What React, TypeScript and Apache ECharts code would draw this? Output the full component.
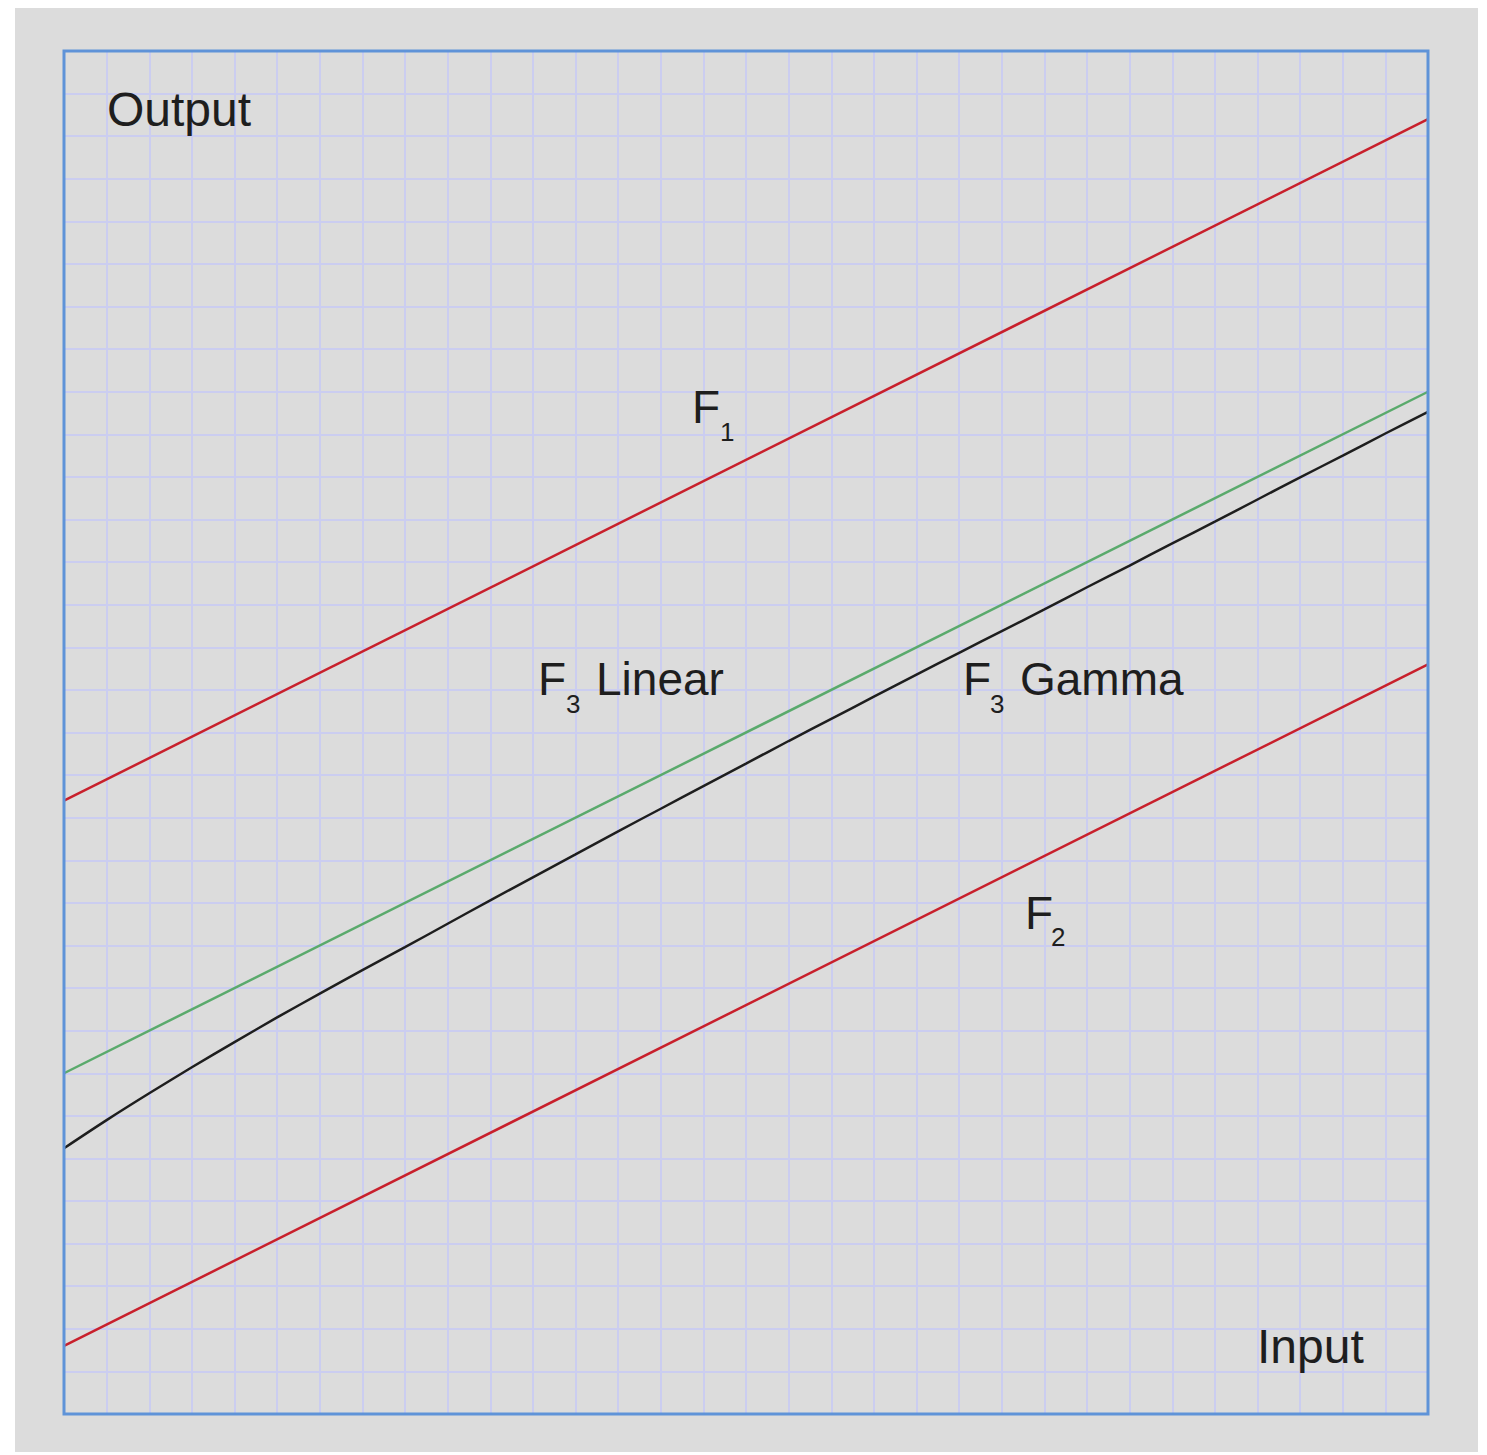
import React, { useEffect, useRef } from "react";
import * as echarts from "echarts";

// Data (grid units: 32 x 32 cells)
const lineX = [0, 32];
const f1Values = [14.4, 30.4];
const f2Values = [1.6, 17.6];
const f3LinearValues = [8.0, 24.0];
const gammaX = [0, 1, 2, 3, 4, 5, 6, 7, 8, 9, 10, 11, 12, 13, 14, 15, 16, 17, 18, 19, 20, 21, 22, 23, 24, 25, 26, 27, 28, 29, 30, 31, 32];
const f3GammaValues = [6.24, 6.9, 7.53, 8.14, 8.73, 9.31, 9.87, 10.42, 10.96, 11.51, 12.06, 12.6, 13.14, 13.68, 14.21, 14.74, 15.27, 15.8, 16.32, 16.84, 17.36, 17.87, 18.38, 18.89, 19.41, 19.92, 20.44, 20.95, 21.47, 21.99, 22.5, 23.02, 23.53];
const axisMin = 0;
const axisMax = 32;
const axisInterval = 1;

const FONT = "'Liberation Sans', Arial, Helvetica, sans-serif";
const INK = "#1e1e1e";

function pairs(xs: number[], ys: number[]) {
  return xs.map((x, i) => [x, ys[i]]);
}

function txt(x: number, y: number, text: string, size: number) {
  return {
    type: "text",
    x,
    y,
    z: 10,
    style: {
      text,
      fill: INK,
      font: `${size}px ${FONT}`,
      align: "left",
      verticalAlign: "middle",
    },
  };
}

export default function App() {
  const ref = useRef<HTMLDivElement>(null);

  useEffect(() => {
    if (!ref.current) return;
    const chart = echarts.init(ref.current, null, { renderer: "svg" });
    const axisCommon = {
      type: "value",
      min: axisMin,
      max: axisMax,
      interval: axisInterval,
      axisLine: { show: false },
      axisTick: { show: false },
      axisLabel: { show: false },
      splitLine: {
        show: true,
        showMinLine: false,
        showMaxLine: false,
        lineStyle: { color: "#cbcdf0", width: 2 },
      },
    };
    chart.setOption({
      animation: false,
      backgroundColor: "#dcdcdc",
      grid: {
        show: true,
        left: 49,
        top: 43,
        width: 1364,
        height: 1363,
        borderColor: "#5f93d8",
        borderWidth: 3,
        backgroundColor: "transparent",
        z: 5,
      },
      xAxis: { ...axisCommon },
      yAxis: { ...axisCommon },
      series: [
        {
          name: "F1",
          type: "line",
          data: pairs(lineX, f1Values),
          showSymbol: false,
          lineStyle: { color: "#c8202c", width: 2.5 },
          z: 3,
        },
        {
          name: "F2",
          type: "line",
          data: pairs(lineX, f2Values),
          showSymbol: false,
          lineStyle: { color: "#c8202c", width: 2.5 },
          z: 3,
        },
        {
          name: "F3 Linear",
          type: "line",
          data: pairs(lineX, f3LinearValues),
          showSymbol: false,
          lineStyle: { color: "#5aaa6c", width: 2.5 },
          z: 3,
        },
        {
          name: "F3 Gamma",
          type: "line",
          data: pairs(gammaX, f3GammaValues),
          showSymbol: false,
          smooth: 0.3,
          lineStyle: { color: "#1e1e1e", width: 2.5 },
          z: 4,
        },
      ],
      graphic: [
        txt(92, 101, "Output", 48),
        txt(1242, 1338, "Input", 48),
        txt(677, 399, "F", 46),
        txt(705, 424, "1", 26),
        txt(523, 671, "F", 46),
        txt(551, 696, "3", 26),
        txt(581, 671, "Linear", 46),
        txt(948, 671, "F", 46),
        txt(975, 696, "3", 26),
        txt(1005, 671, "Gamma", 46),
        txt(1010, 905, "F", 46),
        txt(1036, 929, "2", 26),
      ],
    });
    return () => chart.dispose();
  }, []);

  return (
    <div style={{ position: "fixed", left: 0, top: 0, width: 1487, height: 1455, background: "#ffffff" }}>
      <div ref={ref} style={{ position: "absolute", left: 15, top: 8, width: 1463, height: 1444 }} />
    </div>
  );
}
